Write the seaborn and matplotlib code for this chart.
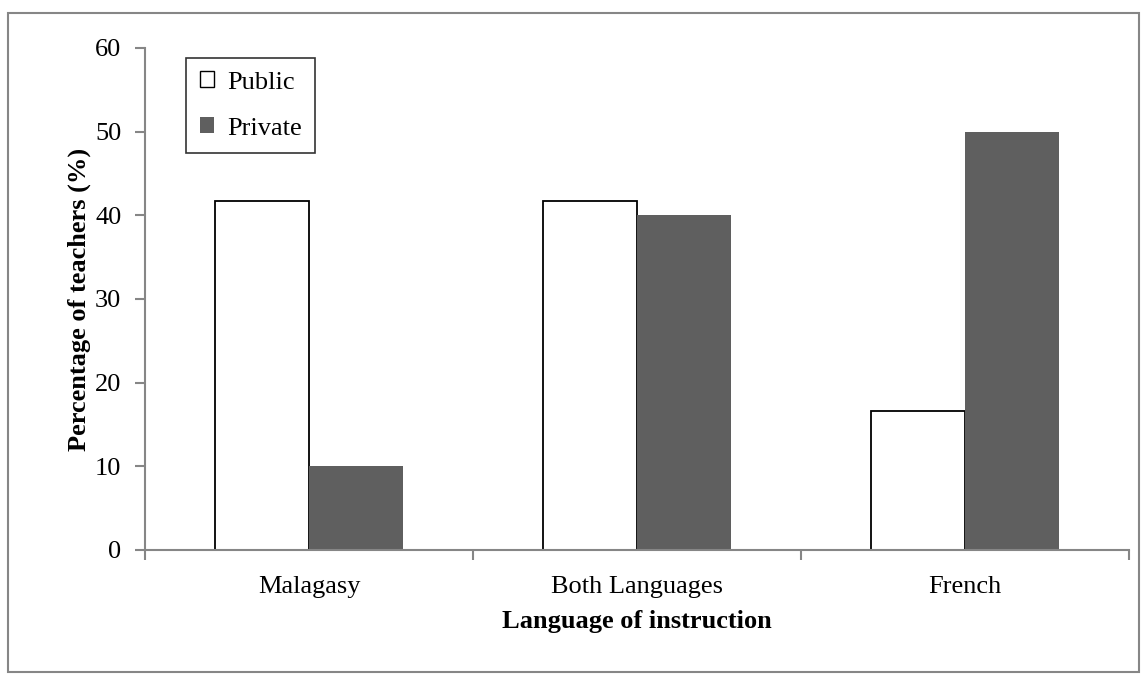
import matplotlib
matplotlib.use("Agg")
import matplotlib.pyplot as plt
import matplotlib.patches as mpatches
import seaborn as sns
import pandas as pd

categories = ["Malagasy", "Both Languages", "French"]
public = [41.67, 41.67, 16.67]
private = [10.0, 40.0, 50.0]
groups = ["Public", "Private"]

df = pd.DataFrame({
    "language": categories * 2,
    "group": [groups[0]] * 3 + [groups[1]] * 3,
    "value": public + private,
})

sns.set_style("white")
plt.rcParams["font.family"] = ["Liberation Serif", "DejaVu Serif"]
plt.rcParams["text.color"] = "black"
plt.rcParams["axes.labelcolor"] = "black"
plt.rcParams["xtick.labelcolor"] = "black"
plt.rcParams["ytick.labelcolor"] = "black"

fig = plt.figure(figsize=(11.47, 6.77), dpi=100)
ax = fig.add_axes([0.1264, 0.1876, 0.8579, 0.7415])

palette = {"Public": "white", "Private": "#5f5f5f"}
sns.barplot(data=df, x="language", y="value", hue="group", palette=palette,
            width=0.573, gap=0, saturation=1, ax=ax, legend=False)

# Public bars get a black outline, private bars none
for bar, grp in zip(ax.patches, ["Public"] * 3 + ["Private"] * 3):
    if grp == "Public":
        bar.set_edgecolor("black")
        bar.set_linewidth(1.3)
    else:
        bar.set_edgecolor("none")

ax.set_xlim(-0.5, 2.5)
ax.set_ylim(0, 60)
ax.set_yticks(range(0, 61, 10))

spine_c = "#868686"
for side in ["top", "right"]:
    ax.spines[side].set_visible(False)
for side in ["left", "bottom"]:
    ax.spines[side].set_color(spine_c)
    ax.spines[side].set_linewidth(1.5)

ax.tick_params(axis="y", which="major", direction="out", length=7, width=1.5,
               color=spine_c, labelsize=19, pad=10, left=True)
ax.tick_params(axis="x", which="major", length=0, labelsize=19, pad=18.5)
ax.set_xticks([-0.5, 0.5, 1.5, 2.5], minor=True)
ax.tick_params(axis="x", which="minor", direction="out", length=7, width=1.5,
               color=spine_c, bottom=True)

ax.set_xlabel("Language of instruction", fontsize=19, fontweight="bold", labelpad=9)
ax.set_ylabel("Percentage of teachers (%)", fontsize=19, fontweight="bold", labelpad=3)

handles = [
    mpatches.Patch(facecolor="white", edgecolor="black", linewidth=1.0, label="Public"),
    mpatches.Patch(facecolor="#5f5f5f", edgecolor="none", label="Private"),
]
leg = ax.legend(handles=handles, loc="upper left", bbox_to_anchor=(0.042, 0.98),
                fontsize=19, frameon=True, fancybox=False, handlelength=0.55,
                handleheight=0.55, handletextpad=0.5, labelspacing=0.9,
                borderpad=0.5, borderaxespad=0)
leg.get_frame().set_edgecolor("black")
leg.get_frame().set_linewidth(1.2)

# Outer chart border
fig.patches.append(mpatches.Rectangle((8 / 1147, 5 / 677), 1 - 16 / 1147, 1 - 18 / 677,
                                      transform=fig.transFigure, fill=False,
                                      edgecolor="#868686", linewidth=1.5))

fig.savefig("out.png", dpi=100)
